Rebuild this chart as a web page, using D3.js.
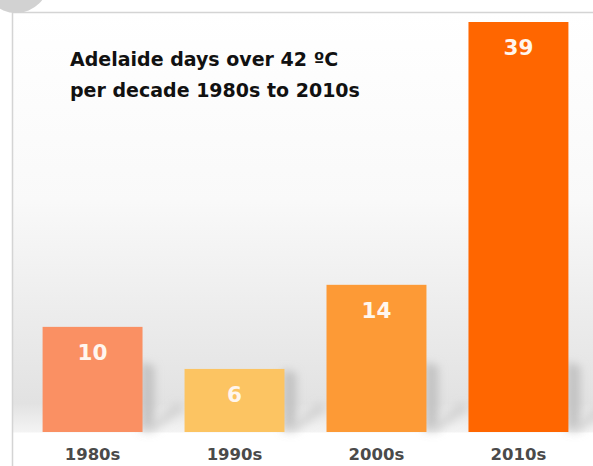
<!DOCTYPE html>
<html lang="en">
<head>
<meta charset="UTF-8">
<title>Adelaide days over 42 ºC</title>
<script src="https://cdnjs.cloudflare.com/ajax/libs/d3/7.8.5/d3.min.js"></script>
<style>
  html, body { margin: 0; padding: 0; background: #fff; }
  svg { display: block; font-family: "DejaVu Sans", Verdana, sans-serif; }
</style>
</head>
<body>
<div id="chart"></div>
<script>
// data
var decades = ["1980s", "1990s", "2000s", "2010s"];
var daysOver42 = [10, 6, 14, 39];
var barColors = ["#fa9063", "#fcc462", "#fd9a36", "#ff6600"];
var titleLines = ["Adelaide days over 42 ºC", "per decade 1980s to 2010s"];

var W = 593, H = 466;
var svg = d3.select("#chart").append("svg")
    .attr("width", W)
    .attr("height", H);

var defs = svg.append("defs");

// soft grey background fading down to the floor
var bg = defs.append("linearGradient").attr("id", "bg")
    .attr("x1", 0).attr("y1", 0).attr("x2", 0).attr("y2", 1);
bg.append("stop").attr("offset", "0%").attr("stop-color", "#ffffff");
bg.append("stop").attr("offset", "45%").attr("stop-color", "#f9f9f9");
bg.append("stop").attr("offset", "93%").attr("stop-color", "#e2e2e2");
bg.append("stop").attr("offset", "100%").attr("stop-color", "#f4f4f4");

defs.append("filter").attr("id", "blur")
    .attr("x", "-50%").attr("y", "-50%").attr("width", "200%").attr("height", "200%")
  .append("feGaussianBlur").attr("stdDeviation", 4);

// frame
svg.append("rect")
    .attr("x", 12.5).attr("y", 12.5)
    .attr("width", W).attr("height", 420)
    .attr("fill", "url(#bg)");
svg.append("path")
    .attr("d", "M12.5," + H + "V12.5H" + W)
    .attr("fill", "none")
    .attr("stroke", "#d4d4d4")
    .attr("stroke-width", 1.5);
svg.append("circle")
    .attr("cx", 16).attr("cy", -20).attr("r", 33)
    .attr("fill", "#d2d2d2");

var x = d3.scaleBand()
    .domain(decades)
    .range([22, 589])
    .paddingInner(0.296)
    .paddingOuter(0.145);

var y = d3.scaleLinear()
    .domain([0, 39])
    .range([432, 22]);

var bars = decades.map(function(d, i) { return {decade: d, value: daysOver42[i], color: barColors[i]}; });

// shadows cast to the right of each bar
svg.append("g").attr("filter", "url(#blur)")
  .selectAll("path")
  .data(bars)
  .enter().append("path")
    .attr("fill", "#b8b8b8")
    .attr("opacity", 0.75)
    .attr("d", function(d) {
        var x0 = x(d.decade) + x.bandwidth();
        var yb = y(0);
        var h = Math.min(yb - y(d.value), 70);
        return "M" + (x0 - 2) + "," + yb +
               "L" + (x0 + 12) + "," + (yb - 6) +
               "L" + (x0 + 12) + "," + (yb - h + 4) +
               "L" + (x0 - 2) + "," + (yb - h) + "Z";
    });

svg.append("g").attr("filter", "url(#blur)")
  .selectAll("path")
  .data(bars)
  .enter().append("path")
    .attr("fill", "#c4c4c4")
    .attr("opacity", 0.6)
    .attr("d", function(d) {
        var x0 = x(d.decade) + x.bandwidth();
        var yb = y(0);
        return "M" + x0 + "," + yb + "L" + (x0 + 35) + "," + (yb - 30) +
               "L" + (x0 + 42) + "," + (yb - 22) + "L" + (x0 + 10) + "," + yb + "Z";
    });

svg.append("g").selectAll("rect")
  .data(bars)
  .enter().append("rect")
    .attr("x", function(d) { return x(d.decade); })
    .attr("y", function(d) { return y(d.value); })
    .attr("width", x.bandwidth())
    .attr("height", function(d) { return y(0) - y(d.value); })
    .attr("fill", function(d) { return d.color; });

// value labels
svg.append("g").selectAll("text")
  .data(bars)
  .enter().append("text")
    .attr("x", function(d) { return x(d.decade) + x.bandwidth() / 2; })
    .attr("y", function(d) { return y(d.value) + 33; })
    .attr("text-anchor", "middle")
    .attr("fill", "#fff6ee")
    .attr("font-size", 21.5)
    .attr("font-weight", "bold")
    .text(function(d) { return d.value; });

// category axis, labels only
var xAxis = svg.append("g")
    .attr("transform", "translate(0," + y(0) + ")")
    .call(d3.axisBottom(x).tickSize(0).tickPadding(16));
xAxis.select(".domain").remove();
xAxis.selectAll("text")
    .attr("font-family", "'DejaVu Sans', Verdana, sans-serif")
    .attr("font-size", 16.5)
    .attr("font-weight", "bold")
    .attr("fill", "#4a4a4a");

// title
svg.append("text")
    .attr("x", 70).attr("y", 66)
    .attr("font-size", 19)
    .attr("font-weight", "bold")
    .attr("fill", "#111")
  .selectAll("tspan")
  .data(titleLines)
  .enter().append("tspan")
    .attr("x", 70)
    .attr("dy", function(d, i) { return i === 0 ? 0 : 31; })
    .text(function(d) { return d; });
</script>
</body>
</html>
